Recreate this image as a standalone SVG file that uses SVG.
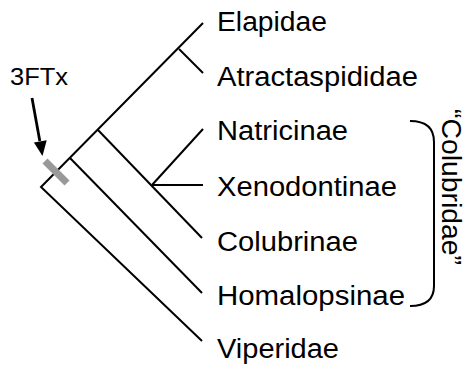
<svg xmlns="http://www.w3.org/2000/svg" width="465" height="367" viewBox="0 0 465 367">
<style>
.br{fill:none;stroke:#000;stroke-width:2;stroke-linecap:butt}
.lb{font-family:"Liberation Sans",Arial,sans-serif;font-size:27px;fill:#000}
</style>
<rect width="465" height="367" fill="#fff"/>
<g id="connectors">
<polyline class="br" points="203,23 41,187 202,341"/>
<line class="br" x1="70" y1="158" x2="202" y2="293"/>
<line class="br" x1="98" y1="130" x2="202" y2="238"/>
<line class="br" x1="152" y1="185" x2="203" y2="185"/>
<line class="br" x1="152" y1="185" x2="203" y2="129"/>
<line class="br" x1="179" y1="49" x2="203" y2="73"/>
<path class="br" d="M410,121 Q434,121 434,142 L434,286 Q434,306 410,306"/>
</g>
<g id="marker-3FTx">
<line x1="45" y1="161" x2="67" y2="183" stroke="#999" stroke-width="7"/>
<line x1="32" y1="98" x2="39.8" y2="141" stroke="#000" stroke-width="2.8"/>
<polygon points="42.5,156 46.7,140.2 33.9,142.6" fill="#000"/>
<text class="lb" x="10" y="85" style="font-size:24.5px" textLength="58" lengthAdjust="spacingAndGlyphs">3FTx</text>
</g>
<g id="Elapidae"><text class="lb" x="217" y="31" textLength="110" lengthAdjust="spacingAndGlyphs">Elapidae</text></g>
<g id="Atractaspididae"><text class="lb" x="217" y="86" textLength="201" lengthAdjust="spacingAndGlyphs">Atractaspididae</text></g>
<g id="Natricinae"><text class="lb" x="217" y="140" textLength="131" lengthAdjust="spacingAndGlyphs">Natricinae</text></g>
<g id="Xenodontinae"><text class="lb" x="217" y="196" textLength="180" lengthAdjust="spacingAndGlyphs">Xenodontinae</text></g>
<g id="Colubrinae"><text class="lb" x="217" y="251" textLength="141" lengthAdjust="spacingAndGlyphs">Colubrinae</text></g>
<g id="Homalopsinae"><text class="lb" x="217" y="305" textLength="188" lengthAdjust="spacingAndGlyphs">Homalopsinae</text></g>
<g id="Viperidae"><text class="lb" x="217" y="358" textLength="122" lengthAdjust="spacingAndGlyphs">Viperidae</text></g>
<g id="Colubridae"><text class="lb" transform="translate(442,187) rotate(90)" text-anchor="middle" textLength="156" lengthAdjust="spacingAndGlyphs">“Colubridae”</text></g>
</svg>
